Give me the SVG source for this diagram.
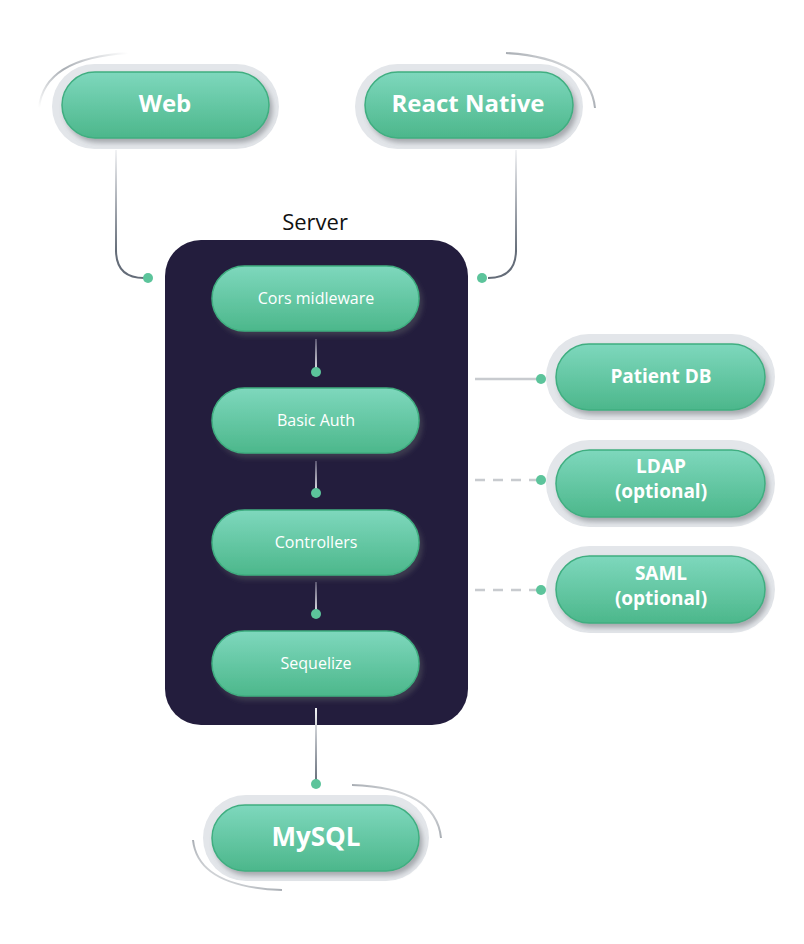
<svg xmlns="http://www.w3.org/2000/svg" width="804" height="944" viewBox="0 0 804 944">
<defs>
<linearGradient id="pill" x1="0" y1="0" x2="0" y2="1">
<stop offset="0" stop-color="#7ed8bd"/>
<stop offset="1" stop-color="#4cb78b"/>
</linearGradient>
<linearGradient id="wire" x1="0" y1="0" x2="0" y2="1">
<stop offset="0" stop-color="#f2f3f5"/>
<stop offset="1" stop-color="#646c78"/>
</linearGradient>
<linearGradient id="wireIn" x1="0" y1="0" x2="0" y2="1">
<stop offset="0" stop-color="#5a5570"/>
<stop offset="1" stop-color="#e6e6ec"/>
</linearGradient>
<linearGradient id="arcL" x1="0" y1="1" x2="1" y2="0">
<stop offset="0" stop-color="#ffffff"/>
<stop offset="0.5" stop-color="#a9aeb4"/>
<stop offset="1" stop-color="#ffffff"/>
</linearGradient>
<filter id="sh" x="-10%" y="-20%" width="125%" height="150%">
<feDropShadow dx="3" dy="4" stdDeviation="2.5" flood-color="#5a5f66" flood-opacity="0.45"/>
</filter>
</defs>
<style>
.halo{fill:#e3e6ea}
.pill{fill:url(#pill);stroke:#3fae80;stroke-width:1.5;filter:url(#sh)}
.big{font-family:"Open Sans","Noto Sans",sans-serif;font-weight:700;fill:#ffffff;text-anchor:middle}
.in{font-family:"Open Sans","Noto Sans",sans-serif;font-size:16px;fill:#ffffff;text-anchor:middle}
.dot{fill:#5cc49b}
.arc{fill:none;stroke:url(#arcL);stroke-width:2}
.vin{fill:url(#wireIn)}
.vout{fill:url(#wire)}
</style>
<rect width="804" height="944" fill="#ffffff"/>

<g id="server">
<text x="315" y="230" font-family="'Open Sans','Noto Sans',sans-serif" font-size="22" fill="#111111" text-anchor="middle">Server</text>
<rect x="165" y="240" width="303" height="485" rx="36" fill="#231d3d"/>
</g>

<g id="connectors">
<rect class="vout" x="115" y="150" width="2" height="102"/>
<path d="M116 250 Q116 278 144 278" fill="none" stroke="#646c78" stroke-width="2"/>
<circle class="dot" cx="148" cy="278" r="5"/>
<rect class="vout" x="515" y="150" width="2" height="102"/>
<path d="M516 250 Q516 278 488 278" fill="none" stroke="#646c78" stroke-width="2"/>
<circle class="dot" cx="482" cy="278" r="5"/>
<rect class="vin" x="315" y="339" width="2" height="32"/>
<circle class="dot" cx="316" cy="372" r="5"/>
<rect class="vin" x="315" y="461" width="2" height="31"/>
<circle class="dot" cx="316" cy="493" r="5"/>
<rect class="vin" x="315" y="582" width="2" height="31"/>
<circle class="dot" cx="316" cy="614" r="5"/>
<rect class="vout" x="315" y="708" width="2" height="75"/>
<circle class="dot" cx="316" cy="784" r="5"/>
<line x1="475" y1="379" x2="538" y2="379" stroke="#c8cbcf" stroke-width="2.5"/>
<circle class="dot" cx="541" cy="379" r="5"/>
<line x1="475" y1="480" x2="538" y2="480" stroke="#c8cbcf" stroke-width="2.5" stroke-dasharray="10 8"/>
<circle class="dot" cx="541" cy="480" r="5"/>
<line x1="475" y1="590" x2="538" y2="590" stroke="#c8cbcf" stroke-width="2.5" stroke-dasharray="10 8"/>
<circle class="dot" cx="541" cy="590" r="5"/>
</g>

<g id="web">
<path class="arc" d="M39 108 Q44 58 128 53"/>
<rect class="halo" x="52" y="64" width="227" height="85" rx="42.5"/>
<rect class="pill" x="62" y="72" width="207" height="66" rx="33"/>
<text class="big" x="165" y="112" font-size="24">Web</text>
</g>

<g id="react-native">
<path class="arc" d="M506 53 Q590 58 595 108"/>
<rect class="halo" x="355" y="64" width="228" height="85" rx="42.5"/>
<rect class="pill" x="365" y="72" width="208" height="66" rx="33"/>
<text class="big" x="468" y="112" font-size="24">React Native</text>
</g>

<g id="cors">
<rect class="pill" x="212" y="266" width="207" height="65" rx="32.5"/>
<text class="in" x="316" y="304">Cors midleware</text>
</g>
<g id="basic-auth">
<rect class="pill" x="212" y="388" width="207" height="65" rx="32.5"/>
<text class="in" x="316" y="426">Basic Auth</text>
</g>
<g id="controllers">
<rect class="pill" x="212" y="510" width="207" height="65" rx="32.5"/>
<text class="in" x="316" y="548">Controllers</text>
</g>
<g id="sequelize">
<rect class="pill" x="212" y="631" width="207" height="65" rx="32.5"/>
<text class="in" x="316" y="669">Sequelize</text>
</g>

<g id="patient-db">
<rect class="halo" x="546" y="334" width="229" height="86" rx="43"/>
<rect class="pill" x="556" y="344" width="209" height="66" rx="33"/>
<text class="big" x="661" y="383" font-size="19">Patient DB</text>
</g>

<g id="ldap">
<rect class="halo" x="546" y="440" width="229" height="87" rx="43.5"/>
<rect class="pill" x="556" y="450" width="209" height="67" rx="33.5"/>
<text class="big" x="661" y="473" font-size="19">LDAP</text>
<text class="big" x="661" y="498" font-size="19">(optional)</text>
</g>

<g id="saml">
<rect class="halo" x="546" y="546" width="229" height="87" rx="43.5"/>
<rect class="pill" x="556" y="556" width="209" height="67" rx="33.5"/>
<text class="big" x="661" y="580" font-size="19">SAML</text>
<text class="big" x="661" y="605" font-size="19">(optional)</text>
</g>

<g id="mysql">
<path class="arc" d="M352 785 Q436 788 441 838"/>
<path class="arc" d="M193 840 Q198 887 282 890"/>
<rect class="halo" x="203" y="795" width="226" height="86" rx="43"/>
<rect class="pill" x="212" y="805" width="207" height="66" rx="33"/>
<text class="big" x="316" y="846" font-size="26">MySQL</text>
</g>
</svg>
